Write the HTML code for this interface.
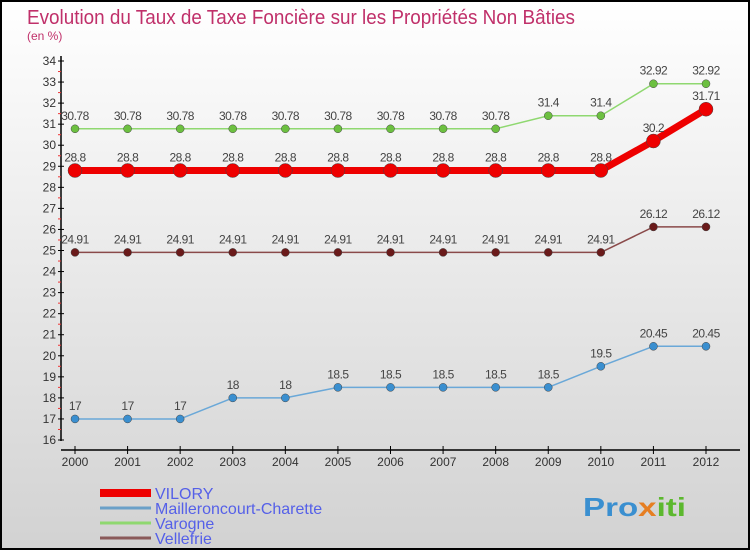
<!DOCTYPE html>
<html><head><meta charset="utf-8"><style>
body{margin:0;}
#c{width:750px;height:550px;position:relative;overflow:hidden;font-family:"Liberation Sans",sans-serif;}
</style></head><body>
<div id="c">
<svg id="s" width="750" height="550" xmlns="http://www.w3.org/2000/svg">
<defs><linearGradient id="bg" x1="0" y1="0" x2="0" y2="1"><stop offset="0" stop-color="#ffffff"/><stop offset="1" stop-color="#d2d2d2"/></linearGradient></defs>
<rect x="1" y="1" width="748" height="548" fill="url(#bg)" stroke="#000" stroke-width="2"/>
<text x="27" y="24" font-size="20" fill="#c0306a" textLength="548" lengthAdjust="spacingAndGlyphs">Evolution du Taux de Taxe Foncière sur les Propriétés Non Bâties</text>
<text x="27" y="40" font-size="12" fill="#c0306a">(en %)</text>
<g id="axes"></g><g id="series"></g><g id="legend"></g>
<text x="583" y="516" font-size="26" font-weight="bold" textLength="103" lengthAdjust="spacingAndGlyphs"><tspan fill="#3a8fd0">Pro</tspan><tspan fill="#e67e22">x</tspan><tspan fill="#5cb82e">iti</tspan></text>
</svg></div>
<script>
const years=[2000,2001,2002,2003,2004,2005,2006,2007,2008,2009,2010,2011,2012];
const vilory=[28.8,28.8,28.8,28.8,28.8,28.8,28.8,28.8,28.8,28.8,28.8,30.2,31.71];
const mailleroncourt=[17,17,17,18,18,18.5,18.5,18.5,18.5,18.5,19.5,20.45,20.45];
const varogne=[30.78,30.78,30.78,30.78,30.78,30.78,30.78,30.78,30.78,31.4,31.4,32.92,32.92];
const vellefrie=[24.91,24.91,24.91,24.91,24.91,24.91,24.91,24.91,24.91,24.91,24.91,26.12,26.12];
const yTicks=[16,17,18,19,20,21,22,23,24,25,26,27,28,29,30,31,32,33,34];
const NS="http://www.w3.org/2000/svg";
const X=i=>75+i*(706-75)/12;
const Y=v=>440-(v-16)*(440-61)/18;
function mk(t,a,p){const e=document.createElementNS(NS,t);for(const k in a)e.setAttribute(k,a[k]);p.appendChild(e);return e;}
const ax=document.getElementById('axes');
let l=mk('line',{x1:61,y1:56,x2:61,y2:441,stroke:'#000','stroke-width':1.5},ax);


l=mk('line',{x1:61,y1:450,x2:740,y2:450,stroke:'#000','stroke-width':1.5},ax);


yTicks.forEach(v=>{
 mk('line',{x1:58,y1:Y(v),x2:64,y2:Y(v),stroke:'#000'},ax);
 if(v<34) mk('line',{x1:58,y1:Y(v+0.5),x2:61,y2:Y(v+0.5),stroke:'#e33'},ax);
 const t=mk('text',{x:56,y:Y(v)+4,'font-size':12,fill:'#333','text-anchor':'end'},ax);t.textContent=v;
 
 
});
years.forEach((y,i)=>{
 mk('line',{x1:X(i),y1:446,x2:X(i),y2:454,stroke:'#000'},ax);
 const t=mk('text',{x:X(i),y:466,'font-size':12,fill:'#333','text-anchor':'middle'},ax);t.textContent=y;
 
 
});
const sg=document.getElementById('series');
function series(name,data,color,dot,w,r){
 const g=mk('g',{},sg);
 
 
 const p=mk('polyline',{points:data.map((v,i)=>X(i)+','+Y(v)).join(' '),fill:'none',stroke:color,'stroke-width':w,'stroke-linejoin':'round'},g);
 
 
 data.forEach((v,i)=>{
  const c=mk('circle',{cx:X(i),cy:Y(v),r:r,fill:dot,stroke:'#444','stroke-width':0.5},g);
  
  
  const t=mk('text',{x:X(i),y:Y(v)-9,'font-size':12,fill:'#444','text-anchor':'middle','letter-spacing':'-0.5'},g);t.textContent=v;
  
  
 });
}
series('mailleroncourt',mailleroncourt,'#6aa8d8','#3a8fd0',1.5,4);
series('vellefrie',vellefrie,'#8a4a4a','#6a1a1a',1.5,4);
series('varogne',varogne,'#8fd870','#6cc040',1.5,4);
series('vilory',vilory,'#ee0000','#ee0000',7,7);
const lg=document.getElementById('legend');
const names=['VILORY','Mailleroncourt-Charette','Varogne','Vellefrie'];
const cols=['#ee0000','#6aa0c8','#8fd870','#8a5a5a'];
const ws=[8,3,3,3];
names.forEach((n,i)=>{
 const y=493+i*15;
 const g=mk('g',{},lg);
 
 
 mk('line',{x1:100,y1:y,x2:151,y2:y,stroke:cols[i],'stroke-width':ws[i]},g);
 const t=mk('text',{x:155,y:y+6,'font-size':16,fill:'#5560e8'},g);t.textContent=n;
});
</script>
</body></html>
